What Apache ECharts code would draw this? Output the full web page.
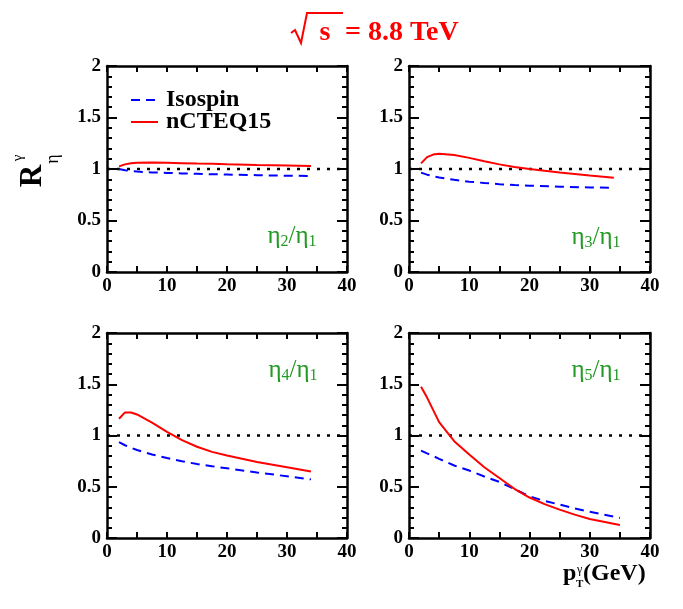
<!DOCTYPE html>
<html>
<head>
<meta charset="utf-8">
<script src="https://cdn.jsdelivr.net/npm/echarts@6/dist/echarts.min.js"></script>
<style>
  html, body { margin: 0; padding: 0; background: #fff; }
  #main { width: 683px; height: 609px; }
</style>
</head>
<body>
<div id="main"></div>
<script>
// pT points (GeV)
const ptA = [2, 3, 4, 5, 7.5, 10, 12.5, 15, 17.5, 20, 25, 30, 34];
const ptB = [2, 3, 4, 5, 7.5, 10, 12.5, 15, 17.5, 20, 22.5, 25, 27.5, 30, 35];

// eta2/eta1
const iso2 = [1.0, 0.988, 0.98, 0.975, 0.967, 0.962, 0.957, 0.953, 0.949, 0.946, 0.94, 0.935, 0.932];
const nc2 = [1.025, 1.045, 1.055, 1.06, 1.063, 1.061, 1.057, 1.053, 1.05, 1.046, 1.039, 1.033, 1.028];
// eta3/eta1
const iso3 = [0.965, 0.945, 0.93, 0.918, 0.895, 0.877, 0.864, 0.853, 0.845, 0.838, 0.828, 0.821, 0.817];
const nc3 = [1.055, 1.115, 1.14, 1.148, 1.135, 1.108, 1.075, 1.045, 1.02, 1.0, 0.966, 0.937, 0.915];
// eta4/eta1
const iso4 = [0.935, 0.905, 0.88, 0.858, 0.815, 0.78, 0.748, 0.722, 0.7, 0.68, 0.64, 0.602, 0.572];
const nc4 = [1.163, 1.225, 1.225, 1.205, 1.125, 1.035, 0.955, 0.89, 0.84, 0.805, 0.742, 0.69, 0.648];
// eta5/eta1
const iso5 = [0.853, 0.825, 0.8, 0.772, 0.707, 0.658, 0.6, 0.547, 0.478, 0.405, 0.362, 0.326, 0.288, 0.257, 0.196];
const nc5 = [1.475, 1.37, 1.25, 1.13, 0.945, 0.815, 0.69, 0.585, 0.48, 0.395, 0.33, 0.277, 0.228, 0.186, 0.127];

const refLine = [[0, 1], [40, 1]];
const xTicks = [0, 10, 20, 30, 40];
const panelNum = ['2', '3', '4', '5'];

const serif = 'Liberation Serif';
const green = '#229922';

const grids = [
  { left: 107, top: 66, width: 240, height: 206 },
  { left: 409, top: 66, width: 241, height: 206 },
  { left: 107, top: 333, width: 240, height: 205 },
  { left: 409, top: 333, width: 241, height: 205 }
];

const panels = [
  { xs: ptA, iso: iso2, nc: nc2 },
  { xs: ptA, iso: iso3, nc: nc3 },
  { xs: ptA, iso: iso4, nc: nc4 },
  { xs: ptB, iso: iso5, nc: nc5 }
];

function pairs(xs, ys) {
  return xs.map((x, i) => [x, ys[i]]);
}

const labelFont = { fontFamily: serif, fontWeight: 'bold', fontSize: 19, color: '#000' };

function xAx(g, pos) {
  return {
    type: 'value', gridIndex: g, position: pos, min: 0, max: 40, interval: 5,
    axisLine: { show: true, onZero: false, lineStyle: { color: '#000', width: 2.5 } },
    axisTick: { show: true, inside: true, length: 6, lineStyle: { color: '#000', width: 2 } },
    axisLabel: Object.assign({ show: pos === 'bottom', margin: 5,
      formatter: v => (xTicks.indexOf(v) >= 0 ? String(v) : '') }, labelFont),
    splitLine: { show: false }
  };
}

function yAx(g, pos) {
  return {
    type: 'value', gridIndex: g, position: pos, min: 0, max: 2, interval: 0.5,
    axisLine: { show: true, onZero: false, lineStyle: { color: '#000', width: 2.5 } },
    axisTick: { show: true, inside: true, length: 10, lineStyle: { color: '#000', width: 2 } },
    minorTick: { show: true, splitNumber: 5, length: 5, lineStyle: { color: '#000', width: 2 } },
    axisLabel: Object.assign({ show: pos === 'left', margin: 6 }, labelFont),
    splitLine: { show: false },
    minorSplitLine: { show: false }
  };
}

const xAxis = [], yAxis = [], series = [];
grids.forEach((g, i) => {
  xAxis.push(xAx(i, 'bottom'), xAx(i, 'top'));
  yAxis.push(yAx(i, 'left'), yAx(i, 'right'));
  const p = panels[i];
  series.push({
    type: 'line', xAxisIndex: 2 * i, yAxisIndex: 2 * i, data: refLine,
    symbol: 'none', silent: true,
    lineStyle: { color: '#000', width: 2.5, type: [3, 7] }
  });
  series.push({
    name: 'Isospin', type: 'line', xAxisIndex: 2 * i, yAxisIndex: 2 * i,
    data: pairs(p.xs, p.iso), symbol: 'none', smooth: false,
    lineStyle: { color: '#0000ff', width: 2, type: [9, 6] }, itemStyle: { color: '#0000ff' }
  });
  series.push({
    name: 'nCTEQ15', type: 'line', xAxisIndex: 2 * i, yAxisIndex: 2 * i,
    data: pairs(p.xs, p.nc), symbol: 'none', smooth: false,
    lineStyle: { color: '#ff0000', width: 2 }, itemStyle: { color: '#ff0000' }
  });
});

// panel labels eta_n / eta_1
const labelPos = [[292, 236], [596, 237], [293, 370], [596, 370]];
const graphic = labelPos.map((pt, i) => ({
  type: 'text', x: pt[0], y: pt[1],
  style: {
    text: '{e|η}{s|' + panelNum[i] + '}{e|/η}{s|1}',
    align: 'center', verticalAlign: 'middle', fill: green,
    rich: {
      e: { fontFamily: serif, fontSize: 25, fill: green },
      s: { fontFamily: serif, fontSize: 16, fill: green, padding: [12, 0, 0, 0] }
    }
  }
}));

// title: sqrt(s) = 8.8 TeV
graphic.push(
  { type: 'polyline', shape: { points: [[291, 33], [295, 30], [301, 43], [307, 13], [343, 13]] },
    style: { stroke: '#ff0000', lineWidth: 2, fill: null } },
  { type: 'text', x: 325, y: 33, style: { text: 's', fontFamily: serif, fontWeight: 'bold', fontSize: 28, fill: '#ff0000', align: 'center', verticalAlign: 'middle' } },
  { type: 'text', x: 345, y: 33, style: { text: '= 8.8 TeV', fontFamily: serif, fontWeight: 'bold', fontSize: 28, fill: '#ff0000', align: 'left', verticalAlign: 'middle' } }
);

// y title R_eta^gamma (rotated)
graphic.push(
  { type: 'text', x: 33, y: 176, rotation: Math.PI / 2, style: { text: 'R', fontFamily: serif, fontWeight: 'bold', fontSize: 31, fill: '#000', align: 'center', verticalAlign: 'middle' } },
  { type: 'text', x: 18, y: 158, rotation: Math.PI / 2, style: { text: 'γ', fontFamily: serif, fontSize: 15, fill: '#000', align: 'center', verticalAlign: 'middle' } },
  { type: 'text', x: 53, y: 159, rotation: Math.PI / 2, style: { text: 'η', fontFamily: serif, fontSize: 18, fill: '#000', align: 'center', verticalAlign: 'middle' } }
);

// x title p_T^gamma (GeV)
graphic.push(
  { type: 'text', x: 563, y: 574, style: { text: 'p', fontFamily: serif, fontWeight: 'bold', fontSize: 24, fill: '#000', align: 'left', verticalAlign: 'middle' } },
  { type: 'text', x: 576, y: 584, style: { text: 'T', fontFamily: serif, fontWeight: 'bold', fontSize: 11, fill: '#000', align: 'left', verticalAlign: 'middle' } },
  { type: 'text', x: 577, y: 570, style: { text: 'γ', fontFamily: serif, fontSize: 12, fill: '#000', align: 'left', verticalAlign: 'middle' } },
  { type: 'text', x: 583, y: 574, style: { text: '(GeV)', fontFamily: serif, fontWeight: 'bold', fontSize: 24, fill: '#000', align: 'left', verticalAlign: 'middle' } }
);

const chart = echarts.init(document.getElementById('main'));
chart.setOption({
  animation: false,
  backgroundColor: '#fff',
  grid: grids,
  xAxis: xAxis,
  yAxis: yAxis,
  legend: {
    data: ['Isospin', 'nCTEQ15'],
    left: 130, top: 88, orient: 'vertical', padding: 0,
    itemWidth: 27, itemHeight: 12, itemGap: -2,
    itemStyle: { opacity: 0 },
    textStyle: { fontFamily: serif, fontWeight: 'bold', fontSize: 24, color: '#000', lineHeight: 22, padding: [0, 0, 0, 3] }
  },
  series: series,
  graphic: graphic
});
</script>
</body>
</html>
